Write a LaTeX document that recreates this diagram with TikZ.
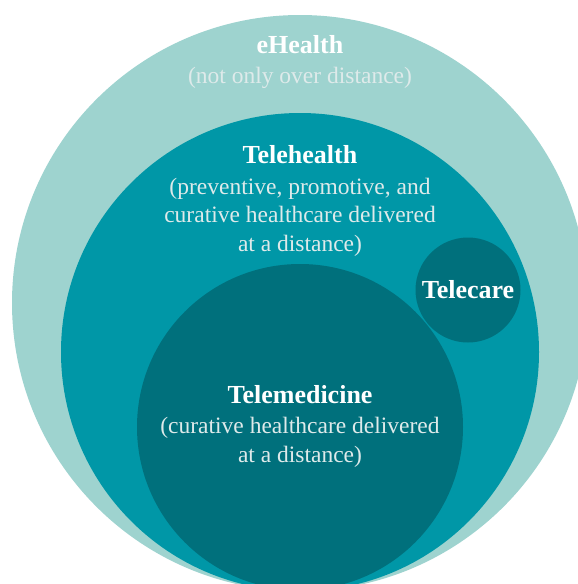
\documentclass[tikz,border=0pt]{standalone}
\usepackage{fontspec}
\setmainfont{Liberation Serif}
\usetikzlibrary{positioning}

\definecolor{ehealthbg}{RGB}{158,211,207}
\definecolor{telehealthbg}{RGB}{0,151,167}
\definecolor{telemedbg}{RGB}{0,112,124}
\definecolor{notegray}{RGB}{222,234,234}

\begin{document}
\begin{tikzpicture}[
  x=1pt, y=-1pt,
  ring/.style={circle, draw=none, inner sep=0pt},
  title/.style={font=\fontsize{26}{30}\selectfont\bfseries, text=white, anchor=base, inner sep=0pt},
  note/.style={font=\fontsize{23.5}{28.5}\selectfont, text=notegray, align=center, anchor=base, inner sep=0pt}
]
\useasboundingbox (0,0) rectangle (578,584);
\clip (0,0) rectangle (578,584);

% Nested circles
\node[ring, fill=ehealthbg, minimum size=576pt] (ehealth) at (300,303) {};
\node[ring, fill=telehealthbg, minimum size=478pt] (telehealth) at (300,352) {};
\node[ring, fill=telemedbg, minimum size=326pt] (telemed) at (300,427) {};
\node[ring, fill=telemedbg, minimum size=105pt] (telecare) at (468,290) {};

% Labels (multi-line notes sit on their last baseline)
\node[title] (ehealthlbl) at (300,53) {eHealth};
\node[note] (ehealthnote) at (300,83) {(not only over distance)};

\node[title] (telehealthlbl) at (300,163) {Telehealth};
\node[note] (telehealthnote) at (300,251) {(preventive, promotive, and\\ curative healthcare delivered\\ at a distance)};

\node[title] (telecarelbl) at (468,298) {Telecare};

\node[title] (telemedlbl) at (300,403) {Telemedicine};
\node[note] (telemednote) at (300,462) {(curative healthcare delivered\\ at a distance)};

\end{tikzpicture}
\end{document}
